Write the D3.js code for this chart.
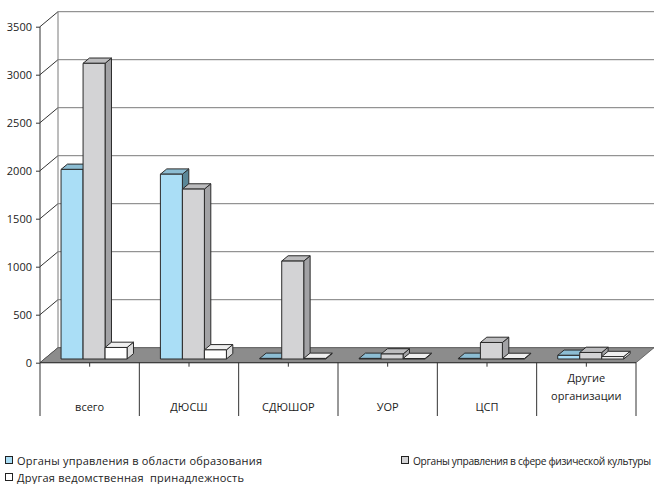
<!DOCTYPE html>
<html>
<head>
<meta charset="utf-8">
<script src="https://cdn.jsdelivr.net/npm/d3@7"></script>
<style>
  html, body { margin: 0; padding: 0; background: #fff; }
  svg { display: block; font-family: "Open Sans", "DejaVu Sans", sans-serif; }
</style>
</head>
<body>
<svg id="chart" width="654" height="484"></svg>
<script>
// Categories and series values
const categories = ["всего", "ДЮСШ", "СДЮШОР", "УОР", "ЦСП", "Другие организации"];
const seriesNames = [
  "Органы управления в области образования",
  "Органы управления в сфере физической культуры",
  "Другая ведомственная  принадлежность"
];
const eduValues   = [1975, 1925, 6, 6, 6, 38];
const sportValues = [3080, 1770, 1020, 52, 172, 68];
const otherValues = [120, 95, 6, 5, 5, 25];
const yTicks = [0, 500, 1000, 1500, 2000, 2500, 3000, 3500];

const series = [
  { name: seriesNames[0], values: eduValues,   front: "#aadef6", top: "#8cbdd3", side: "#5b8797" },
  { name: seriesNames[1], values: sportValues, front: "#d3d3d5", top: "#bcbcbe", side: "#a2a2a5" },
  { name: seriesNames[2], values: otherValues, front: "#ffffff", top: "#efefef", side: "#dedede" }
];

const svg = d3.select("#chart");

// Plot geometry: front plane of the floor and the depth vector of the 3D box
const left = 40, right = 636;
const depth = { x: 18, y: -15 };
const barOffset = { x: 4.4, y: -3.7 };   // bars sit slightly behind the front edge
const barDepth = { x: 6.4, y: -5.3 };

const y = d3.scaleLinear().domain([0, 3500]).range([362.7, 26.7]);
const x = d3.scaleBand().domain(categories).range([left, right]).paddingInner(0).paddingOuter(0);
const xs = d3.scaleBand().domain(d3.range(series.length))
  .range([0, x.bandwidth()]).paddingOuter(0.757).paddingInner(0);

const gridColor = "#7a7a7a";
const y0 = y(0);

// Back wall and left wall gridlines
const walls = svg.append("g");
walls.selectAll("line.grid").data(yTicks).join("line")
  .attr("x1", left + depth.x).attr("x2", 654)
  .attr("y1", d => y(d) + depth.y).attr("y2", d => y(d) + depth.y)
  .attr("stroke", gridColor).attr("stroke-width", 1);
walls.selectAll("line.diag").data(yTicks).join("line")
  .attr("x1", left).attr("x2", left + depth.x)
  .attr("y1", d => y(d)).attr("y2", d => y(d) + depth.y)
  .attr("stroke", "#333").attr("stroke-width", 1);
walls.append("line")
  .attr("x1", left + depth.x).attr("x2", left + depth.x)
  .attr("y1", y(3500) + depth.y).attr("y2", y0 + depth.y)
  .attr("stroke", gridColor);

// Floor
svg.append("path")
  .attr("d", `M${left},${y0} L${right},${y0} L${right + depth.x},${y0 + depth.y} L${left + depth.x},${y0 + depth.y} Z`)
  .attr("fill", "#8c8c8c").attr("stroke", "#555").attr("stroke-width", 0.8);

// Value axis on the front left edge
const axisG = svg.append("g").attr("transform", `translate(${left},0)`)
  .call(d3.axisLeft(y).tickValues(yTicks).tickSize(4).tickPadding(4).tickFormat(d3.format("d")));
axisG.select(".domain").attr("stroke", "#333").attr("d", `M0,${y(3500)}V${y0}`);
axisG.selectAll(".tick line").attr("stroke", "#333");
axisG.selectAll(".tick text").attr("font-size", 11).attr("fill", "#222")
  .attr("font-family", "Open Sans, sans-serif");

// Bars
const bars = svg.append("g");
categories.forEach((cat, ci) => {
  series.forEach((s, si) => {
    const v = s.values[ci];
    const xa = x(cat) + xs(si) + barOffset.x;
    const xb = xa + xs.bandwidth();
    const yt = y(v) + barOffset.y;
    const yb = y0 + barOffset.y;
    const dx = barDepth.x, dy = barDepth.y;
    const g = bars.append("g").attr("stroke", "#2a2a2a").attr("stroke-width", 1).attr("stroke-linejoin", "round");
    g.append("path")
      .attr("d", `M${xb},${yt} L${xb + dx},${yt + dy} L${xb + dx},${yb + dy} L${xb},${yb} Z`)
      .attr("fill", s.side);
    g.append("path")
      .attr("d", `M${xa},${yt} L${xb},${yt} L${xb + dx},${yt + dy} L${xa + dx},${yt + dy} Z`)
      .attr("fill", s.top);
    g.append("rect")
      .attr("x", xa).attr("y", yt).attr("width", xb - xa).attr("height", Math.max(0, yb - yt))
      .attr("fill", s.front);
  });
});

// Category axis: table-like dividers below the floor
const catG = svg.append("g");
catG.append("line").attr("x1", left).attr("x2", right).attr("y1", y0).attr("y2", y0)
  .attr("stroke", "#333");
const edges = categories.map(c => x(c)).concat([right]);
catG.selectAll("line.div").data(edges).join("line")
  .attr("x1", d => d).attr("x2", d => d).attr("y1", y0).attr("y2", 416)
  .attr("stroke", "#333");
catG.selectAll("line.tk").data(categories).join("line")
  .attr("x1", d => x(d) + x.bandwidth() / 2).attr("x2", d => x(d) + x.bandwidth() / 2)
  .attr("y1", y0).attr("y2", y0 + 4).attr("stroke", "#333");
catG.selectAll("text").data(categories).join("text")
  .attr("x", d => x(d) + x.bandwidth() / 2)
  .attr("text-anchor", "middle").attr("font-size", 11).attr("fill", "#222")
  .each(function(d) {
    const words = d.split(" ");
    const t = d3.select(this);
    if (words.length === 1) {
      t.append("tspan").attr("x", x(d) + x.bandwidth() / 2).attr("y", 411).text(d);
    } else {
      words.forEach((w, i) => t.append("tspan").attr("x", x(d) + x.bandwidth() / 2)
        .attr("y", 382 + i * 18).text(w));
    }
  });

// Legend
const legendPos = [[5, 461], [401, 461], [5, 478]];
const legendLen = [245, 238, 227];
const legendSize = [11, 10.2, 11];
const legend = svg.append("g").selectAll("g").data(series).join("g")
  .attr("transform", (d, i) => `translate(${legendPos[i][0]},${legendPos[i][1]})`);
legend.append("rect").attr("x", 0.5).attr("y", -4.5).attr("width", 7).attr("height", 7)
  .attr("fill", d => d.front).attr("stroke", "#222").attr("stroke-width", 1);
legend.append("text").attr("x", 12).attr("y", 3.5)
  .attr("font-size", (d, i) => legendSize[i]).attr("fill", "#222")
  .attr("xml:space", "preserve")
  .attr("textLength", (d, i) => legendLen[i]).attr("lengthAdjust", "spacing")
  .text(d => d.name);
</script>
</body>
</html>
